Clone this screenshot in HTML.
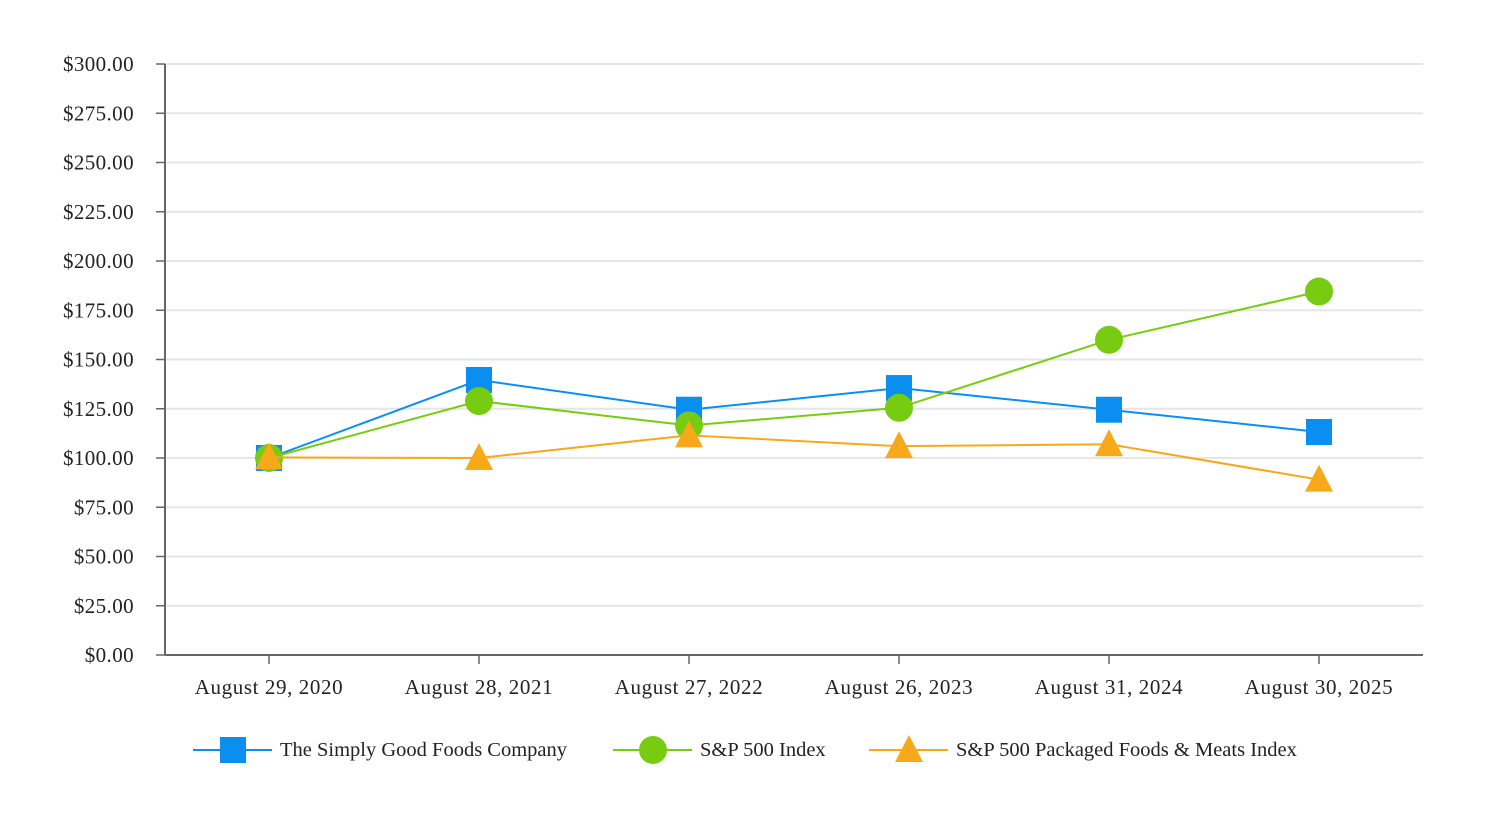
<!DOCTYPE html>
<html><head><meta charset="utf-8"><style>
body{margin:0;background:#fff;}
svg{display:block;font-family:"Liberation Serif",serif;}
</style></head><body>
<svg id="chart" width="1488" height="832" viewBox="0 0 1488 832"></svg>
<script>
const categories=["August 29, 2020","August 28, 2021","August 27, 2022","August 26, 2023","August 31, 2024","August 30, 2025"];
const simplyGood=[100,139.6,124.5,135.5,124.5,113.2];
const sp500=[100,128.9,116.5,125.5,160,184.5];
const packaged=[100.3,100,111.5,106,107,89];
const yTicks=[0,25,50,75,100,125,150,175,200,225,250,275,300];
const seriesNames=["The Simply Good Foods Company","S&P 500 Index","S&P 500 Packaged Foods & Meats Index"];
const NS="http://www.w3.org/2000/svg";
const svg=document.getElementById('chart');
const L=165,R=1423,T=64,B=655;
const y=v=>B-(v/300)*(B-T);
const x=i=>269+i*210;
function mk(tag,attrs,parent){const e=document.createElementNS(NS,tag);for(const k in attrs)e.setAttribute(k,attrs[k]);(parent||svg).appendChild(e);return e;}
yTicks.forEach(t=>{
  const g=mk('line',{x1:L,x2:R,y1:y(t),y2:y(t),stroke:'#e6e6e6','stroke-width':2});
  
  
  const tk=mk('line',{x1:L-9,x2:L,y1:y(t),y2:y(t),stroke:'#666','stroke-width':1.5});
  
  
  const lb=mk('text',{x:134,y:y(t)+7,'text-anchor':'end','font-size':21,'letter-spacing':0.4,fill:'#222'});
  lb.textContent='$'+t.toFixed(2);
  
  
});
const ya=mk('line',{x1:L,x2:L,y1:T,y2:B,stroke:'#666','stroke-width':2});


const xa=mk('line',{x1:L,x2:R,y1:B,y2:B,stroke:'#666','stroke-width':2});


categories.forEach((c,i)=>{
  const tk=mk('line',{x1:x(i),x2:x(i),y1:B,y2:B+9,stroke:'#666','stroke-width':1.5});
  
  
  const lb=mk('text',{x:x(i),y:694,'text-anchor':'middle','font-size':21,'letter-spacing':0.6,fill:'#222'});
  lb.textContent=c;
  
  
});
function marker(type,cx,cy,color,parent){
  let m;
  if(type==='square')m=mk('rect',{x:cx-13,y:cy-13,width:26,height:26,fill:color},parent);
  else if(type==='circle')m=mk('circle',{cx:cx,cy:cy,r:14,fill:color},parent);
  else m=mk('polygon',{points:`${cx},${cy-15} ${cx+14},${cy+12} ${cx-14},${cy+12}`,fill:color},parent);
  return m;
}
const series=[[simplyGood,'#0a8ff0','square'],[sp500,'#77cc11','circle'],[packaged,'#f7a81b','triangle']];
series.forEach(([vals,color,type],si)=>{
  const g=mk('g',{});
  
  
  const p=mk('polyline',{points:vals.map((v,i)=>x(i)+','+y(v)).join(' '),fill:'none',stroke:color,'stroke-width':2},g);
  
  
  vals.forEach((v,i)=>{
    const m=marker(type,x(i),y(v),color,g);
    
    
  });
});
const legX=[193,613,869];
series.forEach(([vals,color,type],si)=>{
  const g=mk('g',{});
  
  
  mk('line',{x1:legX[si],x2:legX[si]+79,y1:750,y2:750,stroke:color,'stroke-width':2},g);
  marker(type,legX[si]+40,750,color,g);
  const t=mk('text',{x:legX[si]+87,y:756,'font-size':20.5,fill:'#222'},g);
  t.textContent=seriesNames[si];
});
</script>
</body></html>
